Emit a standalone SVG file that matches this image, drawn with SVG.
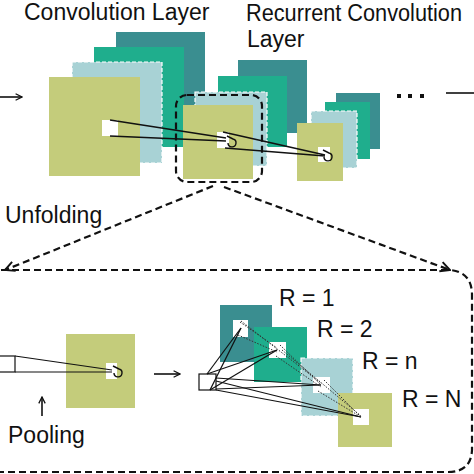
<svg xmlns="http://www.w3.org/2000/svg" width="474" height="474" viewBox="0 0 474 474">
<defs>
<style>
.yg{fill:#c4cc7b}
.lb{fill:#a8d2d5;stroke:#ffffff;stroke-width:1.2;stroke-dasharray:4 2}
.tg{fill:#1fae8d}
.dt{fill:#3a8e90}
.wh{fill:#ffffff}
.ln{stroke:#111;stroke-width:1.6;fill:none}
.thin{stroke:#111;stroke-width:1.2;fill:none}
.dot{stroke:#333;stroke-width:1;stroke-dasharray:1.5 1.5;fill:none}
.dash{stroke:#111;stroke-width:2.2;fill:none;stroke-dasharray:7 4}
.txt{font-family:"Liberation Sans",Arial,sans-serif;font-size:23px;fill:#111}
</style>
<marker id="open" viewBox="0 0 10 10" refX="9" refY="5" markerWidth="8" markerHeight="8" orient="auto" markerUnits="userSpaceOnUse">
<polyline points="1,1 9,5 1,9" fill="none" stroke="#111" stroke-width="1.6"/>
</marker>
<marker id="open2" viewBox="0 0 10 10" refX="9" refY="5" markerWidth="12" markerHeight="12" orient="auto" markerUnits="userSpaceOnUse">
<polyline points="1,1 9,5 1,9" fill="none" stroke="#111" stroke-width="1.6"/>
</marker>
<path id="curl" d="M -5,-6 L 1,-3 A 4,4 0 1 1 -4,1" fill="none" stroke="#111" stroke-width="1.4"/>
</defs>

<g id="labels">
<text class="txt" x="24" y="20">Convolution Layer</text>
<text class="txt" x="246" y="21" textLength="216" lengthAdjust="spacingAndGlyphs">Recurrent Convolution</text>
<text class="txt" x="247" y="47">Layer</text>
<text class="txt" x="5" y="223">Unfolding</text>
<text class="txt" x="8" y="443">Pooling</text>
</g>

<g id="conv-layer">
<rect class="dt" x="116" y="32" width="89" height="100"/>
<rect class="tg" x="94" y="47" width="90" height="100"/>
<rect class="lb" x="72" y="62" width="90" height="101"/>
<rect class="yg" x="49" y="77" width="91" height="99"/>
<rect class="wh" x="102" y="120" width="16" height="16"/>
</g>

<g id="rc-layer">
<rect class="dt" x="238" y="60" width="69" height="73"/>
<rect class="tg" x="218" y="76" width="69" height="71"/>
<rect class="lb" x="195" y="92" width="72" height="74"/>
<rect class="yg" x="183" y="105" width="70" height="74"/>
<rect class="wh" x="217" y="132" width="12" height="16"/>
<use href="#curl" x="232" y="142"/>
</g>

<g id="rc-layer-2">
<rect class="dt" x="336" y="93" width="44" height="56"/>
<rect class="tg" x="325" y="102" width="45" height="57"/>
<rect class="lb" x="311" y="111" width="46" height="57"/>
<rect class="yg" x="297" y="123" width="46" height="58"/>
<rect class="wh" x="318" y="147" width="12" height="15"/>
<use href="#curl" x="328" y="156"/>
</g>

<g id="ellipsis">
<rect x="397" y="94" width="4" height="4" fill="#111"/>
<rect x="408" y="94" width="4" height="4" fill="#111"/>
<rect x="420" y="94" width="4" height="4" fill="#111"/>
</g>

<g id="unfold-box">
<rect x="176" y="95" width="86" height="87" rx="11" class="dash" stroke-width="2"/>
</g>

<g id="pool-layer">
<rect class="yg" x="66" y="334" width="69" height="74"/>
<rect class="wh" x="106" y="363" width="11" height="16"/>
<use href="#curl" x="118" y="372"/>
<rect x="-5" y="356" width="20" height="16" class="thin"/>
</g>

<g id="recurrent-steps">
<rect class="dt" x="220" y="305" width="52" height="57"/>
<rect class="wh" x="233" y="320" width="15" height="17"/>
<rect class="tg" x="254" y="327" width="53" height="55"/>
<rect class="wh" x="269" y="342" width="17" height="16"/>
<rect class="lb" x="301" y="358" width="52" height="58"/>
<rect class="wh" x="313" y="377" width="17" height="16"/>
<rect class="yg" x="338" y="393" width="54" height="54"/>
<rect class="wh" x="353" y="409" width="16" height="16"/>
<rect x="199" y="374" width="17" height="16" class="thin"/>
<text class="txt" x="279" y="306">R = 1</text>
<text class="txt" x="317" y="337">R = 2</text>
<text class="txt" x="362" y="369">R = n</text>
<text class="txt" x="402" y="407">R = N</text>
</g>

<g id="connectors">
<line x1="0" y1="97" x2="22" y2="97" class="ln" marker-end="url(#open)"/>
<line x1="446" y1="93" x2="474" y2="93" class="ln"/>
<line x1="110" y1="120" x2="226" y2="138" class="ln"/>
<line x1="110" y1="136" x2="226" y2="141" class="ln"/>
<line x1="223" y1="132" x2="325" y2="155" class="ln"/>
<line x1="225" y1="148" x2="325" y2="156" class="ln"/>

<line x1="213" y1="186" x2="5" y2="270" class="dash" marker-end="url(#open2)"/>
<line x1="224" y1="187" x2="450" y2="270" class="dash" marker-end="url(#open2)"/>
<path d="M -10,270 L 450,270 Q 472,272 472,295 L 472,450 Q 471,472 448,472 L -10,472" class="dash"/>

<line x1="15" y1="356" x2="112" y2="370" class="thin"/>
<line x1="15" y1="372" x2="112" y2="372" class="thin"/>
<line x1="154" y1="374" x2="180" y2="374" class="ln" marker-end="url(#open)"/>
<line x1="42" y1="416" x2="42" y2="397" class="ln" marker-end="url(#open)"/>

<line x1="207" y1="374" x2="241" y2="328" class="thin"/>
<line x1="210" y1="390" x2="241" y2="328" class="thin"/>
<line x1="207" y1="374" x2="277" y2="350" class="thin"/>
<line x1="210" y1="390" x2="277" y2="350" class="thin"/>
<line x1="216" y1="378" x2="321" y2="385" class="thin"/>
<line x1="216" y1="389" x2="321" y2="385" class="thin"/>
<line x1="216" y1="381" x2="361" y2="417" class="thin"/>
<line x1="216" y1="390" x2="361" y2="417" class="thin"/>

<line x1="240" y1="322" x2="277" y2="348" class="dot"/>
<line x1="238" y1="335" x2="277" y2="352" class="dot"/>
<line x1="241" y1="321" x2="321" y2="383" class="dot"/>
<line x1="280" y1="345" x2="321" y2="385" class="dot"/>
<line x1="276" y1="356" x2="321" y2="387" class="dot"/>
<line x1="324" y1="380" x2="361" y2="417" class="dot"/>
<line x1="318" y1="391" x2="361" y2="417" class="dot"/>
<line x1="282" y1="350" x2="361" y2="416" class="dot"/>
</g>
</svg>
